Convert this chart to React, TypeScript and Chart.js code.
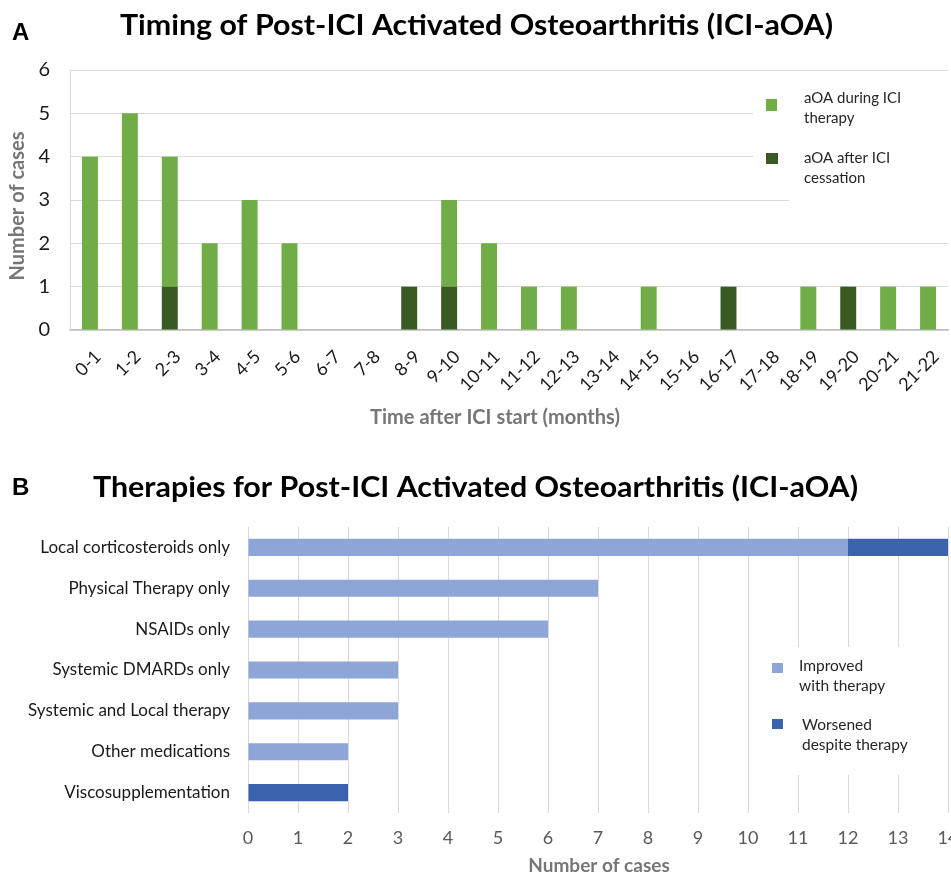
import React, { useEffect, useRef } from 'react';
import { Chart, registerables } from 'chart.js';

Chart.register(...registerables);

// ---------- Data: panel A ----------
const timeBins = ['0-1', '1-2', '2-3', '3-4', '4-5', '5-6', '6-7', '7-8', '8-9', '9-10', '10-11', '11-12', '12-13', '13-14', '14-15', '15-16', '16-17', '17-18', '18-19', '19-20', '20-21', '21-22'];
const duringICI = [4, 5, 3, 2, 3, 2, 0, 0, 0, 2, 2, 1, 1, 0, 1, 0, 0, 0, 1, 0, 1, 1];
const afterICI = [0, 0, 1, 0, 0, 0, 0, 0, 1, 1, 0, 0, 0, 0, 0, 0, 1, 0, 0, 1, 0, 0];
const legendA = [['aOA during ICI', 'therapy'], ['aOA after ICI', 'cessation']];

// ---------- Data: panel B ----------
const therapies = ['Local corticosteroids only', 'Physical Therapy only', 'NSAIDs only', 'Systemic DMARDs only', 'Systemic and Local therapy', 'Other medications', 'Viscosupplementation'];
const improved = [12, 7, 6, 3, 3, 2, 0];
const worsened = [2, 0, 0, 0, 0, 0, 2];
const legendB = [['Improved', 'with therapy'], ['Worsened', 'despite therapy']];

const titleA = 'Timing of Post-ICI Activated Osteoarthritis (ICI-aOA)';
const titleB = 'Therapies for Post-ICI Activated Osteoarthritis (ICI-aOA)';

const GREEN = '#70ad47';
const DKGREEN = '#3a5a24';
const LTBLUE = '#8ea5d7';
const DKBLUE = '#3a62ad';
const FONT = 'Lato, "Open Sans", sans-serif';

function fitText(ctx: CanvasRenderingContext2D, text: string, cx: number, baseline: number, font: string, color: string, targetW: number) {
  ctx.save();
  ctx.font = font;
  ctx.fillStyle = color;
  ctx.textAlign = 'center';
  ctx.textBaseline = 'alphabetic';
  const w = ctx.measureText(text).width;
  const sx = targetW / w;
  ctx.translate(cx, baseline);
  ctx.scale(sx, 1);
  ctx.fillText(text, 0, 0);
  ctx.restore();
}

function txt(ctx: CanvasRenderingContext2D, text: string, x: number, y: number, font: string, color: string, align: CanvasTextAlign = 'left', baseline: CanvasTextBaseline = 'middle', rot = 0) {
  ctx.save();
  ctx.font = font;
  ctx.fillStyle = color;
  ctx.textAlign = align;
  ctx.textBaseline = baseline;
  ctx.translate(x, y);
  if (rot) ctx.rotate(rot);
  ctx.fillText(text, 0, 0);
  ctx.restore();
}

const decorA = {
  id: 'decorA',
  afterDraw(chart: any) {
    const ctx = chart.ctx as CanvasRenderingContext2D;
    txt(ctx, 'A', 12, 40, 'bold 24px "Liberation Sans", Arial, sans-serif', '#000', 'left', 'alphabetic');
    fitText(ctx, titleA, 476.5, 35, `bold 29px ${FONT}`, '#000', 713);
    txt(ctx, 'Number of cases', 18, 206, `bold 20px ${FONT}`, '#767676', 'center', 'middle', -Math.PI / 2);
    txt(ctx, 'Time after ICI start (months)', 495, 418, `bold 20px ${FONT}`, '#767676', 'center', 'middle');
    // legend box
    ctx.save();
    ctx.fillStyle = '#fff';
    ctx.fillRect(753, 74, 198, 124);
    ctx.fillRect(789, 196, 162, 6);
    ctx.fillStyle = GREEN;
    ctx.fillRect(766, 99, 11, 12);
    ctx.fillStyle = DKGREEN;
    ctx.fillRect(766, 153, 12, 11);
    ctx.restore();
    const f = `15px ${FONT}`;
    txt(ctx, legendA[0][0], 804, 98, f, '#262626');
    txt(ctx, legendA[0][1], 804, 118, f, '#262626');
    txt(ctx, legendA[1][0], 804, 158, f, '#262626');
    txt(ctx, legendA[1][1], 804, 178, f, '#262626');
  },
};

const decorB = {
  id: 'decorB',
  afterDraw(chart: any) {
    const ctx = chart.ctx as CanvasRenderingContext2D;
    txt(ctx, 'B', 12, 55, 'bold 24px "Liberation Sans", Arial, sans-serif', '#000', 'left', 'alphabetic');
    fitText(ctx, titleB, 475.5, 57, `bold 28px ${FONT}`, '#000', 765);
    txt(ctx, 'Number of cases', 599, 426, `bold 19px ${FONT}`, '#767676', 'center', 'middle');
    ctx.save();
    ctx.fillStyle = '#fff';
    ctx.fillRect(752, 207, 193, 128);
    ctx.fillStyle = LTBLUE;
    ctx.fillRect(772, 223, 11, 10);
    ctx.fillStyle = DKBLUE;
    ctx.fillRect(772, 279, 11, 10);
    ctx.restore();
    const f = `15.5px ${FONT}`;
    txt(ctx, legendB[0][0], 799, 226, f, '#262626');
    txt(ctx, legendB[0][1], 799, 246, f, '#262626');
    txt(ctx, legendB[1][0], 802, 285, f, '#262626');
    txt(ctx, legendB[1][1], 802, 305, f, '#262626');
  },
};

export default function App() {
  const refA = useRef<HTMLCanvasElement>(null);
  const refB = useRef<HTMLCanvasElement>(null);

  useEffect(() => {
    const chartA = new Chart(refA.current!, {
      type: 'bar',
      data: {
        labels: timeBins,
        datasets: [
          { label: 'aOA after ICI cessation', data: afterICI, backgroundColor: DKGREEN, barPercentage: 0.4, categoryPercentage: 1 },
          { label: 'aOA during ICI therapy', data: duringICI, backgroundColor: GREEN, barPercentage: 0.4, categoryPercentage: 1 },
        ],
      },
      options: {
        animation: false,
        responsive: false,
        layout: { padding: { top: 70, right: 3, left: 0, bottom: 0 } },
        plugins: { legend: { display: false }, tooltip: { enabled: false }, title: { display: false } },
        scales: {
          x: {
            stacked: true,
            grid: { display: false },
            border: { display: true, color: '#bfbfbf', width: 1.5 },
            ticks: { font: { family: FONT, size: 18 }, color: '#1a1a1a', maxRotation: 45, minRotation: 45, autoSkip: false, padding: 8, labelOffset: 8 },
            afterFit: (s: any) => { s.height = 110; s.paddingLeft = 0; s.paddingRight = 0; },
          },
          y: {
            stacked: true,
            min: 0,
            max: 6,
            ticks: { stepSize: 1, font: { family: FONT, size: 20 }, color: '#1a1a1a', padding: 20 },
            grid: { color: '#d9d9d9', drawTicks: false },
            border: { display: true, color: '#d9d9d9' },
            afterFit: (s: any) => { s.width = 70; },
          },
        },
      },
      plugins: [decorA],
    } as any);

    const chartB = new Chart(refB.current!, {
      type: 'bar',
      data: {
        labels: therapies,
        datasets: [
          { label: 'Improved with therapy', data: improved, backgroundColor: LTBLUE, barPercentage: 0.42, categoryPercentage: 1 },
          { label: 'Worsened despite therapy', data: worsened, backgroundColor: DKBLUE, barPercentage: 0.42, categoryPercentage: 1 },
        ],
      },
      options: {
        indexAxis: 'y',
        animation: false,
        responsive: false,
        layout: { padding: { top: 87, right: 3, left: 0, bottom: 0 } },
        plugins: { legend: { display: false }, tooltip: { enabled: false }, title: { display: false } },
        scales: {
          x: {
            stacked: true,
            min: 0,
            max: 14,
            ticks: { stepSize: 1, font: { family: FONT, size: 18 }, color: '#595959', padding: 14 },
            grid: { color: '#d9d9d9', drawTicks: false },
            border: { display: false },
            afterFit: (s: any) => { s.height = 62; s.paddingLeft = 0; s.paddingRight = 0; },
          },
          y: {
            stacked: true,
            grid: { display: false, drawTicks: false },
            border: { display: false },
            ticks: { font: { family: FONT, size: 17 }, color: '#1a1a1a', padding: 18 },
            afterFit: (s: any) => { s.width = 248; s.paddingTop = 0; s.paddingBottom = 0; },
          },
        },
      },
      plugins: [decorB],
    } as any);

    return () => {
      chartA.destroy();
      chartB.destroy();
    };
  }, []);

  return (
    <div style={{ position: 'fixed', left: 0, top: 0, width: 951, height: 875, background: '#fff', overflow: 'hidden' }}>
      <canvas ref={refA} width={951} height={440} style={{ position: 'absolute', left: 0, top: 0, width: 951, height: 440 }} />
      <canvas ref={refB} width={951} height={435} style={{ position: 'absolute', left: 0, top: 440, width: 951, height: 435 }} />
    </div>
  );
}
